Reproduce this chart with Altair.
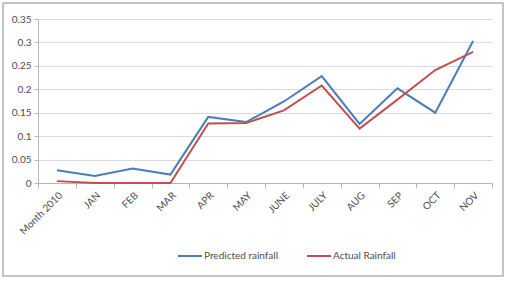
import altair as alt
import pandas as pd

months = ["Month 2010", "JAN", "FEB", "MAR", "APR", "MAY", "JUNE", "JULY", "AUG", "SEP", "OCT", "NOV"]
predicted = [0.027, 0.015, 0.031, 0.018, 0.141, 0.130, 0.174, 0.228, 0.126, 0.202, 0.150, 0.303]
actual = [0.004, 0.0, 0.0, 0.0, 0.127, 0.128, 0.155, 0.208, 0.116, 0.178, 0.241, 0.280]
series = ["Predicted rainfall", "Actual Rainfall"]
colors = ["#4A7EBB", "#C0504D"]
y_ticks = [0, 0.05, 0.1, 0.15, 0.2, 0.25, 0.3, 0.35]

df = pd.DataFrame(
    {"month": months * 2,
     "value": predicted + actual,
     "series": [series[0]] * len(months) + [series[1]] * len(months)}
)

FONT = "Lato"

lines = alt.Chart(df).mark_line(strokeWidth=2).encode(
    x=alt.X("month:O", sort=months,
            scale=alt.Scale(type="band", paddingInner=0, paddingOuter=0),
            axis=alt.Axis(title=None, labelAngle=-45, tickBand="extent", grid=False,
                          domainColor="#b7b7b7", tickColor="#b7b7b7", tickSize=5,
                          labelFontSize=10, labelColor="#4d4d4d", labelFont=FONT,
                          labelPadding=2)),
    y=alt.Y("value:Q", scale=alt.Scale(domain=[0, 0.35], nice=False),
            axis=alt.Axis(title=None, values=y_ticks, format=".2~f", grid=True,
                          gridColor="#d9d9d9", domainColor="#b7b7b7", tickColor="#b7b7b7",
                          tickSize=4, labelFontSize=10, labelColor="#4d4d4d",
                          labelFont=FONT, labelPadding=3)),
    color=alt.Color("series:N", sort=series,
                    scale=alt.Scale(domain=series, range=colors),
                    legend=alt.Legend(title=None, orient="none", direction="horizontal",
                                      legendX=139, legendY=224, symbolType="stroke",
                                      symbolStrokeWidth=2, symbolSize=576,
                                      labelFontSize=10, labelColor="#4d4d4d",
                                      labelFont=FONT, columnPadding=25, labelOffset=1)),
)

border = alt.Chart(pd.DataFrame({"k": [0]})).mark_rect(
    fill=None, stroke="#b0b0b0", strokeWidth=1.5
).encode(
    x=alt.value(-35), x2=alt.value(465), y=alt.value(-16), y2=alt.value(257)
)

chart = alt.layer(border, lines).properties(
    width=454, height=164,
    autosize=alt.AutoSizeParams(type="none"),
    padding={"left": 38, "top": 19, "right": 25, "bottom": 99},
    background="white",
).configure_view(stroke=None)

chart.save("out.html", embed_options={"renderer": "svg", "actions": False})
